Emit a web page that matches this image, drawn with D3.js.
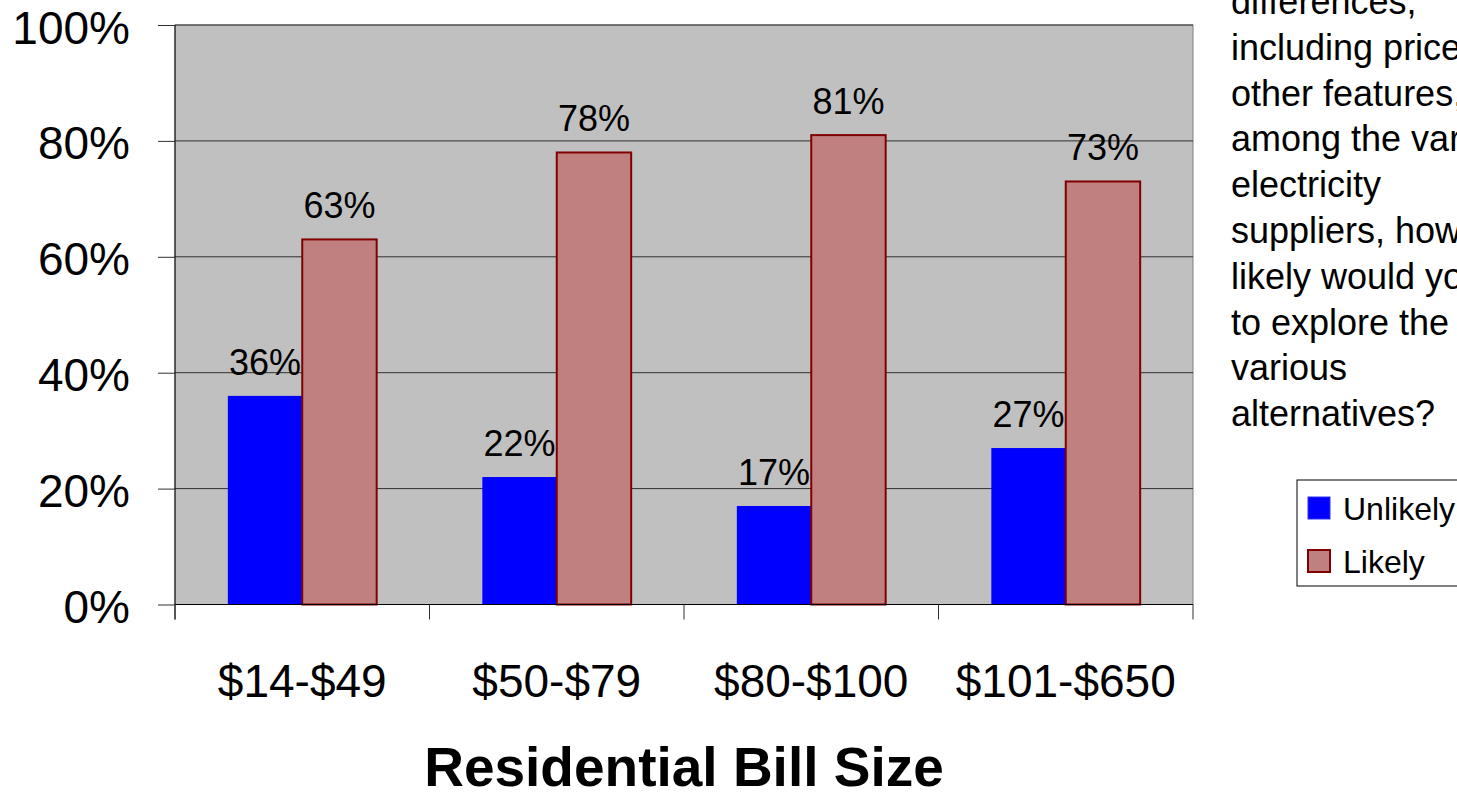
<!DOCTYPE html>
<html>
<head>
<meta charset="utf-8">
<script src="https://cdn.jsdelivr.net/npm/d3@7"></script>
<style>
  body { margin: 0; background: #fff; }
  svg { display: block; font-family: "Liberation Sans", Arial, sans-serif; }
</style>
</head>
<body>
<svg id="chart" width="1457" height="792"></svg>
<script>
var categories = ['$14-$49', '$50-$79', '$80-$100', '$101-$650'],
    seriesNames = ['Unlikely', 'Likely'],
    unlikely = [36, 22, 17, 27],
    likely = [63, 78, 81, 73],
    yTicks = [0, 20, 40, 60, 80, 100],
    questionLines = ['differences,', 'including price,', 'other features,', 'among the various',
                     'electricity', 'suppliers, how', 'likely would you', 'to explore the',
                     'various', 'alternatives?'];

var COLORS = { Unlikely: '#0000ff', Likely: '#c08080' },
    STROKES = { Unlikely: 'none', Likely: '#800000' };

var rows = categories.map(function(c, i) {
  return { cat: c, values: [
    { key: 'Unlikely', value: unlikely[i] },
    { key: 'Likely', value: likely[i] }
  ] };
});

var svg = d3.select('#chart'),
    plot = { left: 175, right: 1193, top: 25, bottom: 604.5 };

var x0 = d3.scaleBand().domain(categories).range([plot.left, plot.right]).padding(0),
    x1 = d3.scaleBand().domain(seriesNames).range([0, x0.bandwidth()])
      .paddingInner(0).paddingOuter(0.71),
    y = d3.scaleLinear().domain([0, 100]).range([plot.bottom, plot.top]);

// plot background
svg.append('rect')
  .attr('x', plot.left).attr('y', plot.top)
  .attr('width', plot.right - plot.left).attr('height', plot.bottom - plot.top)
  .attr('fill', '#c0c0c0')
  .attr('stroke', '#808080').attr('stroke-width', 1);

// gridlines
svg.append('g').selectAll('line')
  .data(yTicks.filter(function(t) { return t > 0; }))
  .enter().append('line')
    .attr('x1', plot.left).attr('x2', plot.right)
    .attr('y1', function(d) { return y(d); }).attr('y2', function(d) { return y(d); })
    .attr('stroke', '#303030').attr('stroke-width', 1);

// bars
var groups = svg.append('g').selectAll('g')
  .data(rows)
  .enter().append('g')
    .attr('transform', function(d) { return 'translate(' + x0(d.cat) + ',0)'; });

groups.selectAll('rect')
  .data(function(d) { return d.values; })
  .enter().append('rect')
    .attr('x', function(d) { return x1(d.key); })
    .attr('y', function(d) { return y(d.value); })
    .attr('width', x1.bandwidth())
    .attr('height', function(d) { return y(0) - y(d.value); })
    .attr('fill', function(d) { return COLORS[d.key]; })
    .attr('stroke', function(d) { return STROKES[d.key]; })
    .attr('stroke-width', 2);

groups.selectAll('text')
  .data(function(d) { return d.values; })
  .enter().append('text')
    .attr('x', function(d) { return x1(d.key) + x1.bandwidth() / 2; })
    .attr('y', function(d) { return y(d.value) - 21; })
    .attr('text-anchor', 'middle')
    .attr('font-size', 36)
    .attr('fill', '#000')
    .text(function(d) { return d.value + '%'; });

// y axis
var yAxis = svg.append('g')
  .attr('transform', 'translate(' + plot.left + ',0)')
  .call(d3.axisLeft(y).tickValues(yTicks).tickSize(17).tickPadding(28)
    .tickFormat(function(d) { return d + '%'; }));
yAxis.select('.domain').attr('stroke', '#000').attr('d', 'M0,' + plot.top + 'V' + (plot.bottom + 15));
yAxis.selectAll('.tick line').attr('stroke', '#303030');
yAxis.selectAll('.tick text')
  .attr('font-size', 46).attr('font-family', '"Liberation Sans", Arial, sans-serif')
  .attr('fill', '#000').attr('dy', 18);

// x axis
var xAxis = svg.append('g')
  .attr('transform', 'translate(0,' + plot.bottom + ')')
  .call(d3.axisBottom(x0).tickSize(0).tickPadding(0));
xAxis.select('.domain').attr('stroke', '#000').attr('d', 'M' + plot.left + ',0H' + plot.right);
xAxis.selectAll('.tick text')
  .attr('font-size', 46).attr('font-family', '"Liberation Sans", Arial, sans-serif')
  .attr('fill', '#000').attr('y', 92).attr('dy', 0);

var bounds = categories.map(function(c) { return x0(c); }).concat([plot.right]);
svg.append('g').selectAll('line')
  .data(bounds)
  .enter().append('line')
    .attr('x1', function(d) { return d; }).attr('x2', function(d) { return d; })
    .attr('y1', plot.bottom).attr('y2', plot.bottom + 15)
    .attr('stroke', '#303030');

svg.append('text')
  .attr('x', (plot.left + plot.right) / 2)
  .attr('y', 786)
  .attr('text-anchor', 'middle')
  .attr('font-size', 55)
  .attr('font-weight', 'bold')
  .text('Residential Bill Size');

// question text on the right (cut by the window edge, as in the original)
svg.append('g').selectAll('text')
  .data(questionLines)
  .enter().append('text')
    .attr('x', 1231)
    .attr('y', function(d, i) { return 14 + i * 45.8; })
    .attr('font-size', 36)
    .text(function(d) { return d; });

// legend
var legend = svg.append('g').attr('transform', 'translate(1297,480)');
legend.append('rect')
  .attr('x', 0).attr('y', 0).attr('width', 200).attr('height', 106)
  .attr('fill', '#fff').attr('stroke', '#000').attr('stroke-width', 1);

var items = legend.selectAll('.item')
  .data(seriesNames)
  .enter().append('g')
    .attr('class', 'item')
    .attr('transform', function(d, i) { return 'translate(0,' + (17 + i * 53) + ')'; });

items.append('rect')
  .attr('x', 11).attr('y', 0).attr('width', 22).attr('height', 22)
  .attr('fill', function(d) { return COLORS[d]; })
  .attr('stroke', function(d) { return d === 'Likely' ? '#800000' : '#3030ff'; })
  .attr('stroke-width', function(d) { return d === 'Likely' ? 2 : 1; });

items.append('text')
  .attr('x', 46).attr('y', 23)
  .attr('font-size', 32)
  .text(function(d) { return d; });
</script>
</body>
</html>
